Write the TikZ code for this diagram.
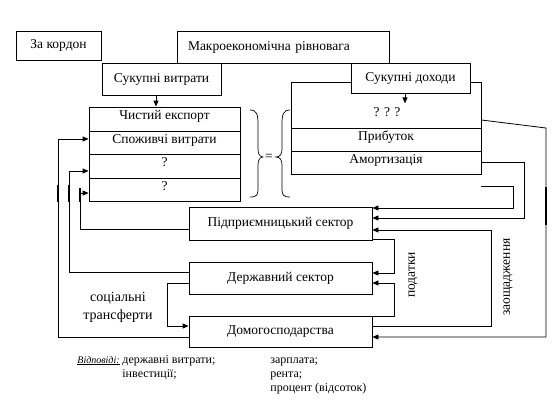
\documentclass[tikz,border=0pt]{standalone}
\usepackage{fontspec}
\setmainfont{Liberation Serif}
\usetikzlibrary{arrows.meta}
\begin{document}
\begin{tikzpicture}[x=1pt,y=-1pt,
  font=\fontsize{13.5}{16}\selectfont,
  line width=0.8pt,
  box/.style={draw, inner sep=0pt, fill=white},
  row/.style={draw, inner sep=0pt, minimum width=151pt, text height=8pt, text depth=7pt},
  rrow/.style={row, minimum width=190pt},
  sector/.style={box, minimum width=183pt},
  lbl/.style={inner sep=0pt},
  small/.style={font=\fontsize{12}{14}\selectfont},
  arr/.style={-{Triangle[length=6pt,width=5pt]}},
  thick line/.style={line width=1.8pt}]
\path[use as bounding box] (0,0) rectangle (558,410);
% top boxes
\node[box, minimum width=85pt, minimum height=29pt] (zak) at (58.5,45.5) {За кордон};
\node[box, minimum width=212pt, minimum height=32pt, text width=190pt, align=left] (mac) at (283,47) {Макроекономічна рівновага};
% right table
\node[rrow, minimum height=46pt] (q1) at (386,105) {};
\node[rrow, minimum height=23pt] (q2) at (386,139.5) {Прибуток};
\node[rrow, minimum height=23pt] (q3) at (386,162.5) {Амортизація};
\node[lbl] (q0) at (387,112) {? ? ?};
% aggregate boxes
\node[box, minimum width=119pt, minimum height=32pt] (vit) at (161.5,79) {Сукупні витрати};
\node[box, minimum width=119pt, minimum height=30pt] (doh) at (410.5,78) {Сукупні доходи};
% left table
\node[row, minimum height=24pt] (r1) at (164.5,119) {Чистий експорт};
\node[row, minimum height=23pt] (r2) at (164.5,142.5) {Споживчі витрати};
\node[row, minimum height=24pt] (r3) at (164.5,166) {?};
\node[row, minimum height=23pt] (r4) at (164.5,189.5) {?};
% sectors
\node[sector, minimum height=33pt] (pid) at (280.5,223.5) {Підприємницький сектор};
\node[sector, minimum height=32pt] (der) at (280.5,278) {Державний сектор};
\node[sector, minimum height=31pt] (dom) at (280.5,331.5) {Домогосподарства};
% braces and equals
\draw[line width=0.7pt] (250,110) .. controls (257,110) and (258,115) .. (258,124) -- (258,149)
  .. controls (258,154) and (260,157) .. (263,157)
  .. controls (260,157) and (258,160) .. (258,165) -- (258,188)
  .. controls (258,195) and (257,197) .. (250,197);
\draw[line width=0.7pt] (290,110) .. controls (283,110) and (282,115) .. (282,124) -- (282,149)
  .. controls (282,154) and (280,157) .. (276,157)
  .. controls (280,157) and (282,160) .. (282,165) -- (282,188)
  .. controls (282,195) and (283,197) .. (290,197);
\node[lbl] (eq) at (269,157) {=};
% arrows from aggregates
\draw[arr] ([xshift=-5.5pt]vit.south) -- ([xshift=-8.5pt]r1.north);
\draw[arr] ([xshift=-5.5pt]doh.south) -- ++(0,10);
% right side flows
\coordinate (c0) at (481,186);
\draw[arr] ([yshift=-15pt]q1.east) -- (546,128) -- (546,337) -- ([yshift=-5.5pt]dom.east);
\draw[arr] (q3.east) -- (524,162.5) -- (524,218) -- ([yshift=5.5pt]pid.east);
\draw[arr] (c0) -- (513,186) -- (513,208) -- ([yshift=15.5pt]pid.east);
\draw[arr] ([yshift=5.5pt]dom.east) -- (491,326) -- (491,230) -- ([yshift=-6.5pt]pid.east);
\draw[arr] ([yshift=-16pt]pid.east) -- (394,239.5) -- (394,273) -- ([yshift=5pt]der.east);
\draw[arr] ([yshift=15pt]dom.east) -- (394,316.5) -- (394,283) -- ([yshift=-5pt]der.east);
% left side flows
\draw[arr] ([yshift=-5.5pt]pid.west) -- (80,229) -- (80,193) -- ([yshift=-3.5pt]r4.west);
\draw[arr] ([yshift=6pt]der.west) -- (69,272) -- (69,171) -- ([yshift=-5pt]r3.west);
\draw[arr] ([yshift=-5.5pt]dom.west) -- (58,337) -- (58,139) -- ([yshift=3.5pt]r2.west);
\draw[arr] ([yshift=-5pt]der.west) -- (167,283) -- (167,326) -- ([yshift=5.5pt]dom.west);
% thick marks
\draw[thick line] (58,185) -- (58,202);
\draw[thick line] (69,185) -- (69,202);
\draw[thick line] (80,188) -- (80,202);
\draw[thick line] (546,187) -- (546,225);
% labels
\node[lbl, rotate=90] (pod) at (413,275) {податки};
\node[lbl, rotate=90] (zao) at (508,277) {заощадження};
\node[lbl, align=center, font=\fontsize{14}{18}\selectfont] (soc) at (118,307) {соціальні\\трансферти};
% answers
\node[lbl, anchor=base west, font=\fontsize{10}{12}\selectfont] (otv) at (77,363) {\itshape\underline{Відповіді:}};
\node[lbl, small, anchor=base west] (b1) at (122,363) {державні витрати;};
\node[lbl, small, anchor=base west] (b2) at (122,377) {інвестиції;};
\node[lbl, small, anchor=base west] (b3) at (270,363) {зарплата;};
\node[lbl, small, anchor=base west] (b4) at (270,377) {рента;};
\node[lbl, small, anchor=base west] (b5) at (270,391) {процент (відсоток)};
\end{tikzpicture}
\end{document}
